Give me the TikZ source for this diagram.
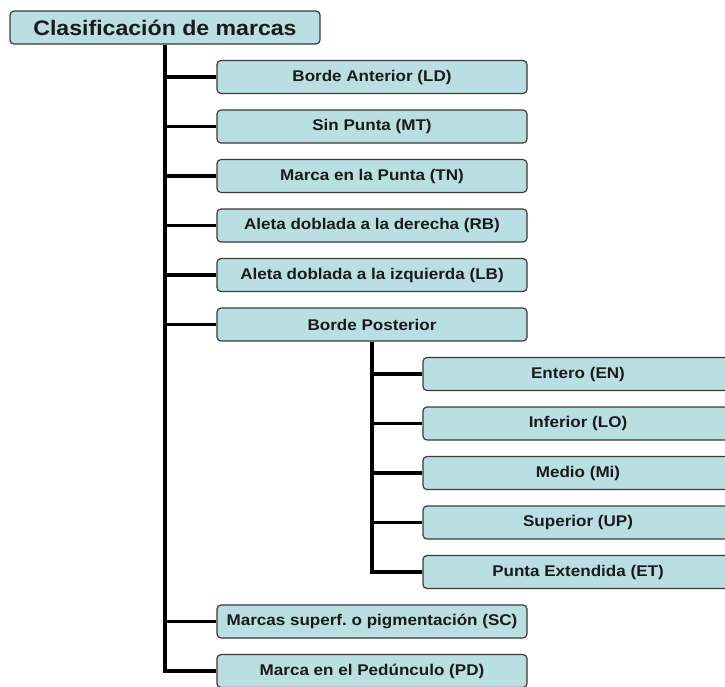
\documentclass[tikz,border=0pt]{standalone}
\usepackage{fontspec}
\setmainfont{Liberation Sans}
\newfontfamily\widesans[FakeStretch=1.1]{Liberation Sans}
\frenchspacing
\definecolor{boxfill}{HTML}{B9DFE3}
\definecolor{boxline}{HTML}{3A3A3A}
\definecolor{txt}{HTML}{1A1A1A}
\tikzset{
  box/.style={draw=boxline, line width=1.2pt, fill=boxfill, rounded corners=4pt,
    minimum width=310pt, minimum height=33pt, inner sep=0pt, text=txt,
    font=\widesans\bfseries\fontsize{15.5}{18}\selectfont},
  rootbox/.style={box, font=\widesans\bfseries\fontsize{21}{25}\selectfont},
  conn/.style={draw=black, line width=3.2pt}
}
\begin{document}
\begin{tikzpicture}[x=1pt,y=-1pt]
\useasboundingbox (0,0) rectangle (725,686);
\node[rootbox] (root) at (165,27.5) {Clasificación de marcas};
\node[box] (ld) at (372,77) {Borde Anterior (LD)};
\node[box] (mt) at (372,126.5) {Sin Punta (MT)};
\node[box] (tn) at (372,176) {Marca en la Punta (TN)};
\node[box] (rb) at (372,225.5) {Aleta doblada a la derecha (RB)};
\node[box] (lb) at (372,275) {Aleta doblada a la izquierda (LB)};
\node[box] (bp) at (372,324.5) {Borde Posterior};
\node[box] (en) at (578,374) {Entero (EN)};
\node[box] (lo) at (578,423.5) {Inferior (LO)};
\node[box] (mi) at (578,473) {Medio (Mi)};
\node[box] (up) at (578,522.5) {Superior (UP)};
\node[box] (et) at (578,572) {Punta Extendida (ET)};
\node[box] (sc) at (372,621.5) {Marcas superf.\ o pigmentación (SC)};
\node[box] (pd) at (372,671) {Marca en el Pedúnculo (PD)};
\foreach \c in {ld,mt,tn,rb,lb,bp,sc,pd}
  \draw[conn] (root.south) |- (\c.west);
\foreach \c in {en,lo,mi,up,et}
  \draw[conn] (bp.south) |- (\c.west);
\end{tikzpicture}
\end{document}
